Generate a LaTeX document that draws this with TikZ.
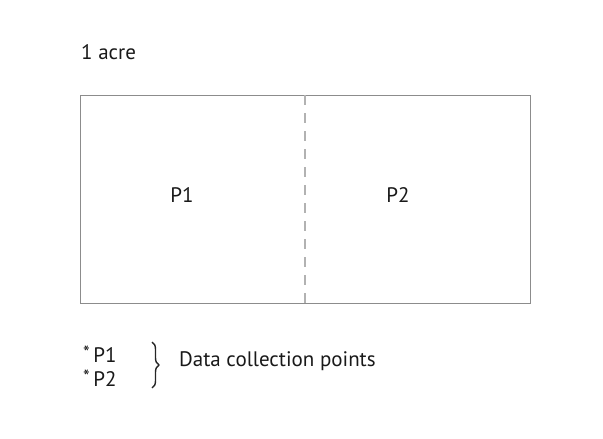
\documentclass[tikz,border=0pt]{standalone}
\usepackage{fontspec}
\setmainfont{PT Sans}
\usetikzlibrary{decorations.pathreplacing}
\begin{document}
\begin{tikzpicture}[x=1pt,y=-1pt,
  lbl/.style={font=\fontsize{21}{23}\selectfont, text=black!90, inner sep=0pt},
  plot/.style={draw=black!45, line width=1pt}]
\useasboundingbox (0,0) rectangle (603,439);
\node[lbl, anchor=west] (acre) at (81,52) {1 acre};
\draw[plot] (80,95) rectangle (530,303);
\coordinate (dtop) at (305,95);
\coordinate (dbot) at (305,303);
\draw[draw=black!30, line width=1.2pt, dash pattern=on 10pt off 8pt] (dtop) -- (dbot);
\node[lbl] (p1) at (182,195) {P1};
\node[lbl] (p2) at (398,195) {P2};
\node[lbl, anchor=west] (b1) at (83,354) {\raisebox{0.3ex}{\fontsize{19}{19}\selectfont *}\,P1};
\node[lbl, anchor=west] (b2) at (83,378) {\raisebox{0.3ex}{\fontsize{19}{19}\selectfont *}\,P2};
\coordinate (bt) at (152,342);
\coordinate (bb) at (152,388);
\draw[black!85, line width=1.4pt, decorate, decoration={brace, amplitude=7pt}] (bt) -- (bb);
\node[lbl, anchor=west] (dcp) at (179,361) {Data collection points};
\end{tikzpicture}
\end{document}
